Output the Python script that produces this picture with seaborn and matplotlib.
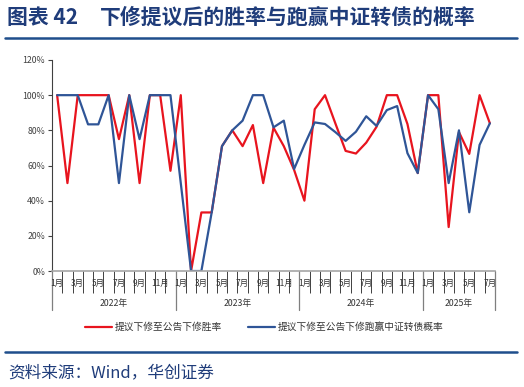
import pandas as pd
import matplotlib.pyplot as plt
import matplotlib.transforms as mtransforms
import seaborn as sns

# ==================================================
# DATA (2022-01 ~ 2025-07, monthly)
# ==================================================
years = ['2022年', '2023年', '2024年', '2025年']
months_per_year = [12, 12, 12, 7]

win_rate = [100, 50, 100, 100, 100, 100, 75, 100, 50, 100, 100, 57,
            100, 0, 33.3, 33.3, 71, 80, 71, 83, 50, 81.5, 71, 57.5,
            40, 92, 100, 84, 68.3, 66.8, 73, 82, 100, 100, 83.6, 55.7,
            100, 100, 25, 79, 66.6, 100, 84]
beat_prob = [100, 100, 100, 83.4, 83.4, 100, 50, 100, 75, 100, 100, 100,
             50, 0, 0, 33.3, 71, 80, 85.5, 100, 100, 81.7, 85.5, 58,
             71.7, 84.5, 83.6, 79, 74, 79.2, 88, 82.5, 91.5, 93.8, 67, 55.7,
             100, 92, 50, 80, 33.4, 71.7, 84]

label_red = '提议下修至公告下修胜率'
label_blue = '提议下修至公告下修跑赢中证转债概率'

month_labels = []
for n in months_per_year:
    month_labels += [f'{m}月' for m in range(1, n + 1)]

n = len(win_rate)
df = pd.DataFrame({
    'idx': list(range(n)) * 2,
    'value': win_rate + beat_prob,
    'series': [label_red] * n + [label_blue] * n,
})

# ==================================================
# PLOT
# ==================================================
sns.set_theme(style='white')
plt.rcParams['font.family'] = ['Noto Sans CJK SC', 'DejaVu Sans']

fig = plt.figure(figsize=(5.24, 3.87), dpi=100)
ax = fig.add_axes([0.0992, 0.2997, 0.8455, 0.5453])

red = '#e8141e'
blue = '#2f5597'
sns.lineplot(data=df, x='idx', y='value', hue='series',
             palette={label_red: red, label_blue: blue},
             linewidth=1.6, ax=ax, legend=False)

ax.set_xlim(-0.5, n - 0.5)
ax.set_ylim(0, 120)
ax.set_yticks(range(0, 121, 20))
ax.set_yticklabels([f'{v}%' for v in range(0, 121, 20)], fontsize=6.3, color='#404040')
ax.tick_params(axis='y', length=3, width=0.8, color='#404040', pad=2, left=True)
ax.set_xlabel('')
ax.set_ylabel('')

for s in ['top', 'right']:
    ax.spines[s].set_visible(False)
ax.spines['left'].set_color('#404040')
ax.spines['left'].set_linewidth(0.8)
ax.spines['bottom'].set_color('#a6a6a6')
ax.spines['bottom'].set_linewidth(1.2)

# month boundary ticks
ax.set_xticks([i - 0.5 for i in range(n + 1)])
ax.set_xticklabels([])
ax.tick_params(axis='x', length=16, width=0.7, color='#404040', bottom=True)

trans = mtransforms.blended_transform_factory(ax.transData, ax.transAxes)
for i, lab in enumerate(month_labels):
    if (int(lab[:-1]) % 2) == 1:
        ax.text(i, -0.057, lab, transform=trans, ha='center', va='center',
                fontsize=6, color='#333333')

start = 0
for yr, cnt in zip(years, months_per_year):
    ax.plot([start - 0.5, start - 0.5], [0, -0.185], transform=trans,
            color='#7f7f7f', lw=0.9, clip_on=False)
    ax.text(start + cnt / 2 - 0.5, -0.155, yr, transform=trans, ha='center',
            va='center', fontsize=6.3, color='#333333')
    start += cnt
ax.plot([start - 0.5, start - 0.5], [0, -0.185], transform=trans,
        color='#7f7f7f', lw=0.9, clip_on=False)

# legend
fig.lines.append(plt.Line2D([85 / 524, 112 / 524], [1 - 327 / 387] * 2,
                            transform=fig.transFigure, color=red, lw=1.6))
fig.text(115 / 524, 1 - 327 / 387, label_red, fontsize=7, va='center', color='#333333')
fig.lines.append(plt.Line2D([248 / 524, 275 / 524], [1 - 327 / 387] * 2,
                            transform=fig.transFigure, color=blue, lw=1.6))
fig.text(278 / 524, 1 - 327 / 387, label_blue, fontsize=7, va='center', color='#333333')

# title, rules, source
navy = '#1f3c7a'
fig.text(7 / 524, 1 - 17 / 387, '图表 42', fontsize=15, fontweight='bold',
         color=navy, va='center')
fig.text(100 / 524, 1 - 17 / 387, '下修提议后的胜率与跑赢中证转债的概率', fontsize=15,
         fontweight='bold', color=navy, va='center')
fig.lines.append(plt.Line2D([5 / 524, 517 / 524], [1 - 38 / 387] * 2,
                            transform=fig.transFigure, color='#1f4e8c', lw=1.8))
fig.lines.append(plt.Line2D([5 / 524, 517 / 524], [1 - 352 / 387] * 2,
                            transform=fig.transFigure, color='#1f4e8c', lw=1.8))
fig.text(8 / 524, 1 - 373 / 387, '资料来源：Wind，华创证券', fontsize=12,
         style='italic', color=navy, va='center')

fig.savefig('out.png', dpi=100)
